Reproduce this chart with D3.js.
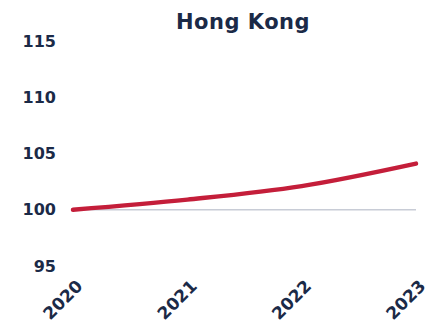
<!DOCTYPE html>
<html>
<head>
<meta charset="utf-8">
<script src="https://cdn.jsdelivr.net/npm/d3@7"></script>
<style>
  body { margin: 0; background: #fff; }
  text { font-family: "DejaVu Sans", sans-serif; font-weight: bold; fill: #1b2a47; }
</style>
</head>
<body>
<svg id="chart" width="438" height="326"></svg>
<script>
// data
const years = ['2020', '2021', '2022', '2023'];
const values = [100, 100.9, 102.1, 104.1];
const yTicks = [95, 100, 105, 110, 115];
const title = 'Hong Kong';

const svg = d3.select('#chart');

let x = d3.scalePoint().domain(years).range([73, 416]);
let y = d3.scaleLinear().domain([95, 115]).range([266, 41]);

svg.append('text')
   .attr('x', 243).attr('y', 29)
   .attr('text-anchor', 'middle')
   .style('font-size', '21px')
   .style('letter-spacing', '0.5px')
   .text(title);

// y axis labels, no line
let ya = svg.append('g').attr('transform', 'translate(56,0)')
  .call(d3.axisLeft(y).tickValues(yTicks).tickSize(0).tickPadding(0));
ya.select('.domain').remove();
ya.selectAll('text').style('font-size', '16px').attr('fill', '#1b2a47');

// baseline at 100
svg.append('line')
   .attr('x1', x('2020')).attr('x2', x('2023'))
   .attr('y1', y(100)).attr('y2', y(100))
   .attr('stroke', '#c8ccd6').attr('stroke-width', 1.5);

// x labels rotated
let xa = svg.append('g').attr('transform', 'translate(0,279)')
  .call(d3.axisBottom(x).tickSize(0).tickPadding(0));
xa.select('.domain').remove();
xa.selectAll('text')
  .style('font-size', '17px')
  .attr('fill', '#1b2a47')
  .attr('text-anchor', 'end')
  .attr('dy', '0.35em')
  .attr('transform', 'translate(6,4) rotate(-45)');

let line = d3.line()
  .x((d, i) => x(years[i]))
  .y(d => y(d))
  .curve(d3.curveMonotoneX);

svg.append('path')
   .datum(values)
   .attr('d', line)
   .attr('fill', 'none')
   .attr('stroke', '#c41e3a')
   .attr('stroke-width', 4.5)
   .attr('stroke-linecap', 'round');
</script>
</body>
</html>
